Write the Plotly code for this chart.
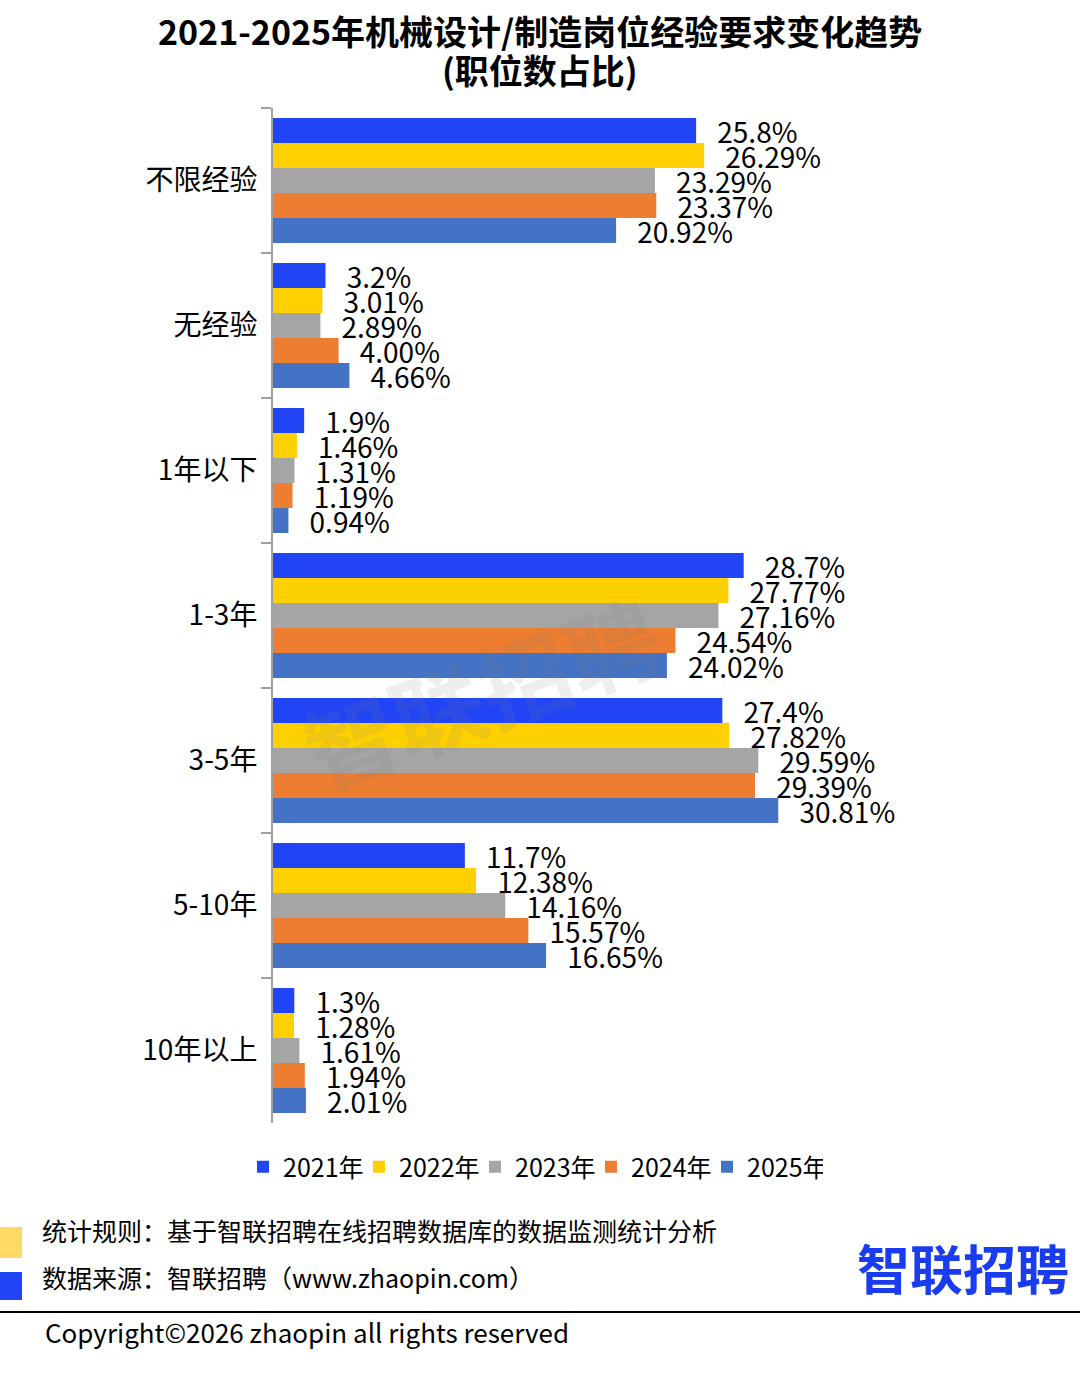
import plotly.graph_objects as go

categories = ["不限经验", "无经验", "1年以下", "1-3年", "3-5年", "5-10年", "10年以上"]
series_names = ["2021年", "2022年", "2023年", "2024年", "2025年"]
v2021 = [25.8, 3.2, 1.9, 28.7, 27.4, 11.7, 1.3]
v2022 = [26.29, 3.01, 1.46, 27.77, 27.82, 12.38, 1.28]
v2023 = [23.29, 2.89, 1.31, 27.16, 29.59, 14.16, 1.61]
v2024 = [23.37, 4.00, 1.19, 24.54, 29.39, 15.57, 1.94]
v2025 = [20.92, 4.66, 0.94, 24.02, 30.81, 16.65, 2.01]
t2021 = ["25.8%", "3.2%", "1.9%", "28.7%", "27.4%", "11.7%", "1.3%"]
t2022 = ["26.29%", "3.01%", "1.46%", "27.77%", "27.82%", "12.38%", "1.28%"]
t2023 = ["23.29%", "2.89%", "1.31%", "27.16%", "29.59%", "14.16%", "1.61%"]
t2024 = ["23.37%", "4.00%", "1.19%", "24.54%", "29.39%", "15.57%", "1.94%"]
t2025 = ["20.92%", "4.66%", "0.94%", "24.02%", "30.81%", "16.65%", "2.01%"]
colors = ["#2145f5", "#ffd000", "#a5a5a5", "#ed7d31", "#4472c4"]

W, H = 1080, 1374
L, R, T, B = 273, 37, 108, 251
PW, PH = W - L - R, H - T - B


def px(x):
    return (x - L) / PW


def py(y):
    return (H - B - y) / PH


FONT = "Noto Sans CJK SC, Noto Sans, sans-serif"
fig = go.Figure()
for name, vals, txt, col in zip(series_names, [v2021, v2022, v2023, v2024, v2025],
                                [t2021, t2022, t2023, t2024, t2025], colors):
    fig.add_trace(go.Bar(
        y=categories, x=vals, name=name, orientation="h",
        marker=dict(color=col, line=dict(width=0)),
        text=["\u00a0\u00a0\u2009" + t for t in txt], textposition="outside",
        textfont=dict(size=28, color="#000000", family=FONT),
        constraintext="none", cliponaxis=False,
    ))

fig.update_layout(
    width=W, height=H,
    margin=dict(l=L, r=R, t=T, b=B),
    paper_bgcolor="white", plot_bgcolor="white",
    barmode="group", bargap=0.138, bargroupgap=0,
    font=dict(family=FONT, color="#000000"),
    showlegend=True,
    legend=dict(orientation="h", xref="container", yref="container",
                x=0.5 - 7 / W, xanchor="center", y=1 - 1167 / H, yanchor="middle",
                font=dict(size=25, family=FONT), itemwidth=30,
                entrywidth=71, entrywidthmode="pixels",
                traceorder="normal"),
    xaxis=dict(range=[0, PW / 16.4], showticklabels=False, showgrid=False,
               zeroline=False, showline=False),
    yaxis=dict(autorange="reversed", showline=True, linecolor="#a0a0a0", linewidth=2,
               ticks="outside", ticklen=10, tickwidth=2, tickcolor="#a0a0a0",
               tickson="boundaries", showgrid=False, ticklabelstandoff=8,
               tickfont=dict(size=28, family=FONT, color="#000000")),
)

anns = [
    dict(x=px(540), y=py(30), text="<b>2021-2025年机械设计/制造岗位经验要求变化趋势</b>",
         font=dict(size=34, family=FONT)),
    dict(x=px(540), y=py(70), text="<b>(职位数占比)</b>", font=dict(size=34, family=FONT)),
    dict(x=px(480), y=py(690), text="<b>智联招聘</b>", textangle=-20,
         font=dict(size=92, family=FONT, color="rgba(120,120,120,0.13)")),
    dict(x=px(40), y=py(1230), xanchor="left", text="统计规则：基于智联招聘在线招聘数据库的数据监测统计分析",
         font=dict(size=25, family=FONT)),
    dict(x=px(40), y=py(1277), xanchor="left", text="数据来源：智联招聘（www.zhaopin.com）",
         font=dict(size=25, family=FONT)),
    dict(x=px(43), y=py(1331), xanchor="left", text="Copyright©2026 zhaopin all rights reserved",
         font=dict(size=26, family=FONT)),
    dict(x=px(963), y=py(1267), text="<b>智联招聘</b>",
         font=dict(size=53, family=FONT, color="#1a3cf0")),
]
for a in anns:
    a.setdefault("xanchor", "center")
    fig.add_annotation(xref="paper", yref="paper", showarrow=False, yanchor="middle", **a)

shapes = [
    dict(type="rect", x0=px(0), x1=px(22), y0=py(1227), y1=py(1258),
         fillcolor="#ffd966", line=dict(width=0)),
    dict(type="rect", x0=px(0), x1=px(22), y0=py(1272), y1=py(1300),
         fillcolor="#2145f5", line=dict(width=0)),
    dict(type="line", x0=px(0), x1=px(1080), y0=py(1312), y1=py(1312),
         line=dict(color="#000000", width=2)),
]
for s in shapes:
    fig.add_shape(xref="paper", yref="paper", **s)

fig.write_html("out.html", config={"displayModeBar": False},
               post_script="document.body.style.margin='0';document.body.style.overflow='hidden';")
